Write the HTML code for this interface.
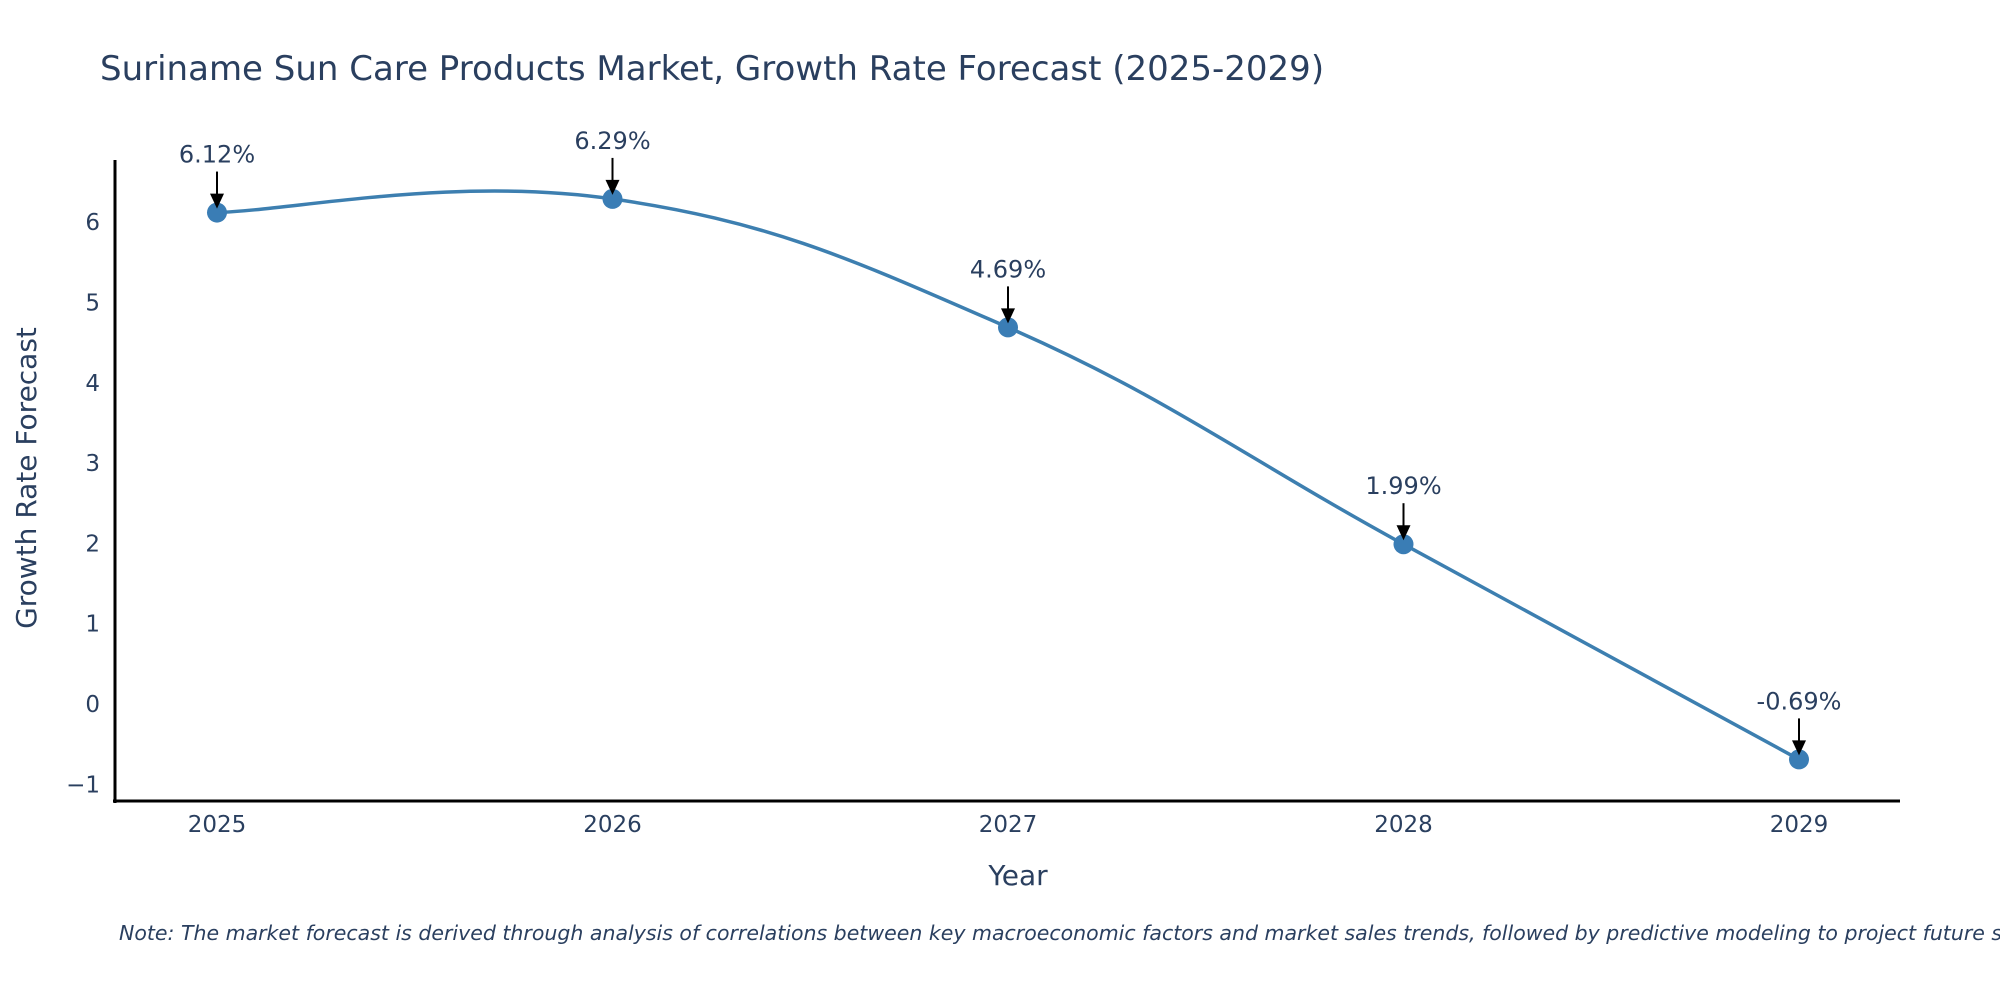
<!DOCTYPE html>
<html><head><meta charset="utf-8"><style>
body{margin:0;background:#fff;}
svg text{font-family:"DejaVu Sans","Liberation Sans",sans-serif;fill:#2a3f5f;}
</style></head><body>
<svg width="2000" height="1000" viewBox="0 0 2000 1000">
<text x="100" y="80" font-size="34">Suriname Sun Care Products Market, Growth Rate Forecast (2025-2029)</text>
<g id="plot"></g>
<line x1="115" y1="160" x2="115" y2="803" stroke="#000" stroke-width="3"/>
<line x1="113" y1="801" x2="1900" y2="801" stroke="#000" stroke-width="3"/>
<text x="1018" y="885" font-size="28" text-anchor="middle">Year</text>
<text transform="translate(36,478) rotate(-90)" font-size="28" text-anchor="middle">Growth Rate Forecast</text>
<text x="119" y="940" font-size="20.5" font-style="italic" fill="#000">Note: The market forecast is derived through analysis of correlations between key macroeconomic factors and market sales trends, followed by predictive modeling to project future sales.</text>
</svg>
<script>
const years=[2025,2026,2027,2028,2029];
const values=[6.12,6.29,4.69,1.99,-0.69];
const yTicks=[-1,0,1,2,3,4,5,6];
const labels=["6.12%","6.29%","4.69%","1.99%","-0.69%"];
const NS="http://www.w3.org/2000/svg";
const svg=document.querySelector('svg');
const g=document.getElementById('plot');
function xs(v){return 217+(v-2025)*395.5;}
function ys(v){return 704-v*80.3;}
function mk(t,a,p){const e=document.createElementNS(NS,t);for(const k in a)e.setAttribute(k,a[k]);(p||g).appendChild(e);return e;}
yTicks.forEach(t=>{const e=mk('text',{x:100,y:ys(t)+8,'font-size':23,'text-anchor':'end'},svg);e.textContent=t<0?'\u2212'+Math.abs(t):t;

});
years.forEach(y=>{const e=mk('text',{x:xs(y),y:832,'font-size':23,'text-anchor':'middle'},svg);e.textContent=y;

});
const P=years.map((y,i)=>[xs(y),ys(values[i])]);
let d='M'+P[0][0]+','+P[0][1];
const s=0.2;
for(let i=0;i<P.length-1;i++){const p0=P[i-1]||P[i],p1=P[i],p2=P[i+1],p3=P[i+2]||P[i+1];
const c1=[p1[0]+(p2[0]-p0[0])*s,p1[1]+(p2[1]-p0[1])*s];
const c2=[p2[0]-(p3[0]-p1[0])*s,p2[1]-(p3[1]-p1[1])*s];
d+=' C'+c1[0]+','+c1[1]+' '+c2[0]+','+c2[1]+' '+p2[0]+','+p2[1];}
const line=mk('path',{d:d,fill:'none',stroke:'#3d7fb0','stroke-width':3.5});


P.forEach((p,i)=>{const c=mk('circle',{cx:p[0],cy:p[1],r:10,fill:'#3a7db5'});


const a=mk('line',{x1:p[0],y1:p[1]-41,x2:p[0],y2:p[1]-18,stroke:'#000','stroke-width':2});


const h=mk('polygon',{points:(p[0]-7)+','+(p[1]-19)+' '+(p[0]+7)+','+(p[1]-19)+' '+p[0]+','+(p[1]-4),fill:'#000'});


const t=mk('text',{x:p[0],y:p[1]-50,'font-size':24,'text-anchor':'middle'});t.textContent=labels[i];

});
</script>
</body></html>
